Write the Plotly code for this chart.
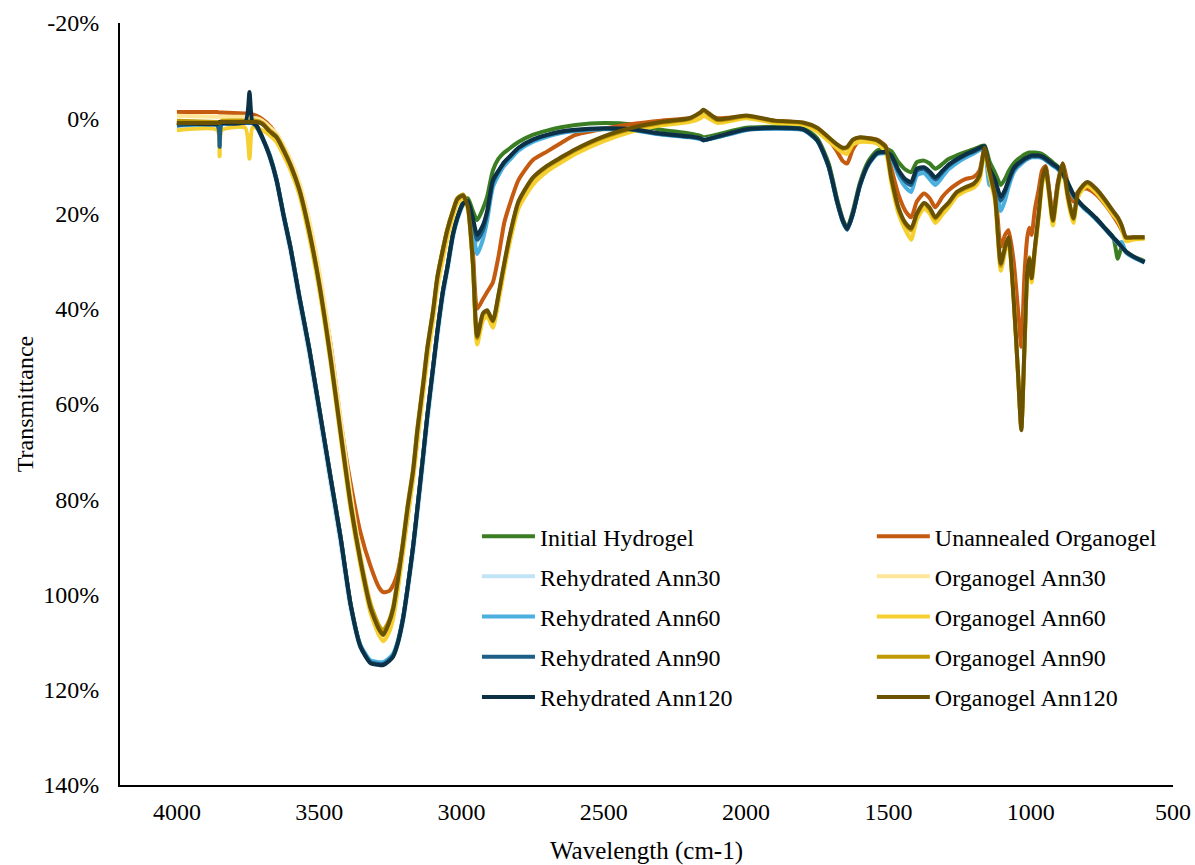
import plotly.graph_objects as go

# Wavenumber grid (cm-1)
wn = [4000, 3858, 3850, 3842, 3760, 3745, 3735, 3720, 3700, 3675,
      3650, 3625, 3600, 3570, 3535, 3500, 3460, 3425, 3390, 3355,
      3320, 3290, 3275, 3255, 3240, 3225, 3205, 3190, 3170, 3155,
      3135, 3120, 3100, 3085, 3065, 3050, 3030, 3015, 2995, 2978,
      2960, 2945, 2925, 2910, 2890, 2870, 2850, 2830, 2800, 2750,
      2700, 2650, 2600, 2500, 2400, 2300, 2200, 2160, 2150, 2100,
      2000, 1900, 1800, 1750, 1710, 1680, 1660, 1645, 1625, 1600,
      1570, 1540, 1510, 1490, 1465, 1440, 1420, 1400, 1375, 1355,
      1335, 1310, 1290, 1260, 1230, 1200, 1180, 1162, 1145, 1125,
      1105, 1090, 1078, 1060, 1045, 1033, 1022, 1012, 1005, 997,
      985, 972, 960, 948, 935, 922, 905, 888, 870, 850,
      835, 815, 800, 770, 740, 710, 694, 680, 665, 640,
      600]

initial_hydrogel = [
    1.0, 1.0, 1.0, 1.0, 0.8, 0.8, 0.8, 1.5, 4.0, 7.6,
    12.8, 20.3, 27.3, 37.3, 48.3, 60.8, 75.3, 87.8, 101.8, 110.8,
    114.2, 114.6, 114.6, 113.8, 112.8, 110.3, 104.8, 98.8, 89.8, 81.8,
    70.8, 62.3, 52.3, 44.8, 36.1, 31.3, 24.2, 20.8, 17.6, 16.8,
    19.5, 21.4, 19.0, 16.5, 11.0, 8.5, 7.2, 6.3, 5.0, 3.5,
    2.6, 1.9, 1.4, 1.0, 1.3, 2.4, 3.2, 3.7, 4.0, 3.4,
    2.0, 1.8, 2.0, 4.2, 9.5, 17.0, 21.2, 23.0, 19.5, 13.5,
    9.0, 6.8, 6.4, 6.9, 9.2, 10.8, 11.3, 9.2, 8.9, 9.5,
    10.6, 9.6, 8.6, 7.8, 7.1, 6.5, 6.0, 5.7, 9.0, 11.5,
    14.0, 12.7, 11.2, 9.5, 8.6, 8.1, 7.6, 7.3, 7.2, 7.2,
    7.2, 7.3, 7.5, 8.0, 8.6, 9.3, 10.1, 11.4, 13.5, 16.0,
    17.2, 18.5, 19.3, 21.0, 23.0, 25.0, 29.5, 27.0, 28.0, 29.0,
    30.0]

unannealed_organogel = [
    -1.3, -1.3, -1.2, -1.2, -1.0, -1.0, -0.8, -0.5, 0.2, 1.5,
    3.5, 6.0, 9.5, 15.0, 23.5, 34.0, 47.5, 63.5, 76.5, 87.0,
    94.0, 98.5, 99.5, 99.3, 98.0, 95.5, 89.5, 84.0, 75.0, 67.5,
    57.0, 50.0, 41.5, 33.8, 27.5, 23.5, 19.5, 17.0, 16.3, 18.5,
    28.0, 40.0, 38.0, 36.5, 34.5, 29.0, 22.0, 18.0, 13.0, 8.8,
    7.0, 5.2, 3.5, 2.2, 1.2, 0.5, 0.0, -0.5, -1.0, 0.0,
    -0.3, 0.5, 1.0, 2.5, 4.5, 7.0, 9.0, 9.5, 6.5, 4.5,
    4.2, 4.5, 5.8, 10.5, 16.0, 19.5, 20.8, 17.5, 15.8, 16.8,
    18.7, 16.5, 15.2, 13.8, 12.8, 12.3, 11.0, 6.2, 10.5, 15.0,
    27.0, 24.5, 23.5, 30.0, 40.0, 48.0, 33.0, 25.0, 23.0, 24.5,
    19.0, 15.0, 11.0, 10.0, 15.0, 20.5, 13.5, 9.5, 13.5, 17.5,
    15.5, 14.8, 14.8, 16.0, 18.0, 20.5, 22.0, 23.5, 25.0, 25.0,
    25.0]

rehydrated_ann30 = [
    1.2, 1.2, 1.0, 1.2, 1.0, 1.0, 1.0, 1.8, 4.2, 8.2,
    13.6, 21.3, 28.5, 38.6, 49.8, 62.4, 77.0, 89.5, 103.0, 111.2,
    114.0, 114.5, 114.5, 113.8, 113.0, 110.8, 105.8, 100.0, 91.5, 83.6,
    72.8, 64.2, 54.0, 46.4, 37.6, 32.5, 25.2, 21.6, 18.4, 17.6,
    22.0, 26.0, 23.5, 20.5, 13.8, 11.5, 9.6, 8.3, 6.5, 4.8,
    3.7, 3.0, 2.6, 2.2, 2.4, 3.3, 3.9, 4.3, 4.5, 3.9,
    2.4, 2.1, 2.4, 4.7, 10.2, 17.7, 21.7, 23.3, 20.2, 14.1,
    9.6, 7.4, 7.2, 8.1, 11.5, 13.8, 14.5, 11.4, 11.0, 12.0,
    13.3, 11.6, 10.3, 9.0, 8.0, 7.2, 6.5, 6.1, 11.5, 13.8,
    18.0, 16.0, 13.8, 11.0, 10.0, 9.4, 8.8, 8.5, 8.3, 8.1,
    8.1, 8.1, 8.3, 8.7, 9.3, 9.9, 10.6, 11.8, 13.8, 16.2,
    17.4, 18.7, 19.5, 21.2, 23.1, 25.1, 26.1, 27.1, 28.1, 29.1,
    30.2]

organogel_ann30 = [
    -0.5, -0.3, -0.3, -0.3, -0.3, -0.2, 0.0, 0.0, 0.5, 1.8,
    3.2, 5.8, 8.8, 13.5, 21.5, 32.0, 47.5, 63.0, 78.5, 91.5,
    101.5, 106.5, 108.0, 106.5, 104.0, 98.8, 90.5, 83.8, 76.0, 68.0,
    58.5, 51.0, 43.0, 36.0, 29.8, 25.5, 21.0, 18.0, 16.8, 19.0,
    31.0, 47.0, 42.0, 41.0, 43.5, 38.0, 31.5, 25.5, 18.5, 13.5,
    11.0, 9.0, 7.2, 4.5, 2.5, 1.2, 0.5, -0.3, -1.0, 0.7,
    -0.2, 0.8, 1.2, 2.5, 4.5, 6.0, 6.8, 6.8, 5.0, 4.6,
    4.8, 5.1, 6.6, 13.0, 19.5, 23.0, 24.5, 21.0, 18.6, 19.6,
    21.6, 19.8, 18.4, 16.0, 15.0, 14.3, 12.6, 6.6, 11.6, 17.2,
    31.5, 27.8, 25.6, 37.6, 53.4, 65.2, 48.8, 32.6, 29.8, 34.0,
    27.6, 20.6, 13.6, 10.8, 16.2, 22.0, 14.6, 10.0, 16.6, 21.6,
    16.4, 14.5, 13.9, 15.3, 17.5, 20.0, 21.3, 23.0, 25.5, 25.3,
    25.2]

rehydrated_ann60 = [
    1.5, 1.3, 1.0, 1.2, 1.0, 1.0, 1.0, 1.8, 4.0, 7.5,
    12.8, 20.2, 27.2, 37.2, 48.2, 60.8, 75.3, 88.0, 102.0, 110.6,
    113.8, 114.2, 114.2, 113.4, 112.4, 110.0, 104.6, 98.8, 89.8, 82.0,
    71.0, 62.5, 52.5, 45.0, 36.5, 31.6, 24.6, 21.2, 18.2, 17.6,
    23.0, 28.5, 25.5, 21.5, 14.5, 12.0, 10.0, 8.7, 6.8, 5.0,
    3.9, 3.1, 2.7, 2.3, 2.5, 3.4, 4.0, 4.4, 4.6, 4.0,
    2.5, 2.2, 2.5, 4.8, 10.3, 17.8, 21.8, 23.3, 20.2, 14.2,
    9.8, 7.6, 7.4, 8.3, 12.0, 14.5, 15.5, 12.0, 11.5, 12.8,
    14.0, 12.3, 10.8, 9.4, 8.3, 7.4, 6.7, 6.3, 14.0, 14.5,
    19.5, 17.2, 14.5, 11.4, 10.2, 9.6, 9.0, 8.6, 8.4, 8.2,
    8.2, 8.2, 8.4, 8.8, 9.4, 10.0, 10.7, 12.0, 14.0, 16.3,
    17.5, 18.8, 19.6, 21.3, 23.2, 25.2, 26.2, 26.0, 28.2, 29.2,
    30.3]

organogel_ann60 = [
    2.5, 2.5, 8.0, 2.5, 2.0, 8.5, 2.0, 2.0, 2.5, 3.5,
    5.0, 7.8, 11.0, 16.0, 25.0, 36.0, 51.5, 67.0, 82.0, 94.0,
    103.8, 108.5, 109.8, 108.0, 105.0, 99.5, 91.0, 84.0, 75.5, 67.5,
    57.5, 50.0, 42.0, 35.0, 29.0, 24.8, 20.5, 17.8, 16.8, 19.0,
    31.5, 47.5, 42.5, 41.5, 44.0, 38.5, 32.0, 26.0, 19.0, 14.0,
    11.2, 9.3, 7.5, 4.8, 2.8, 1.5, 0.8, 0.0, -0.5, 1.0,
    0.0, 1.0, 1.4, 2.8, 4.8, 6.3, 7.2, 7.5, 5.5, 5.0,
    5.0, 5.3, 7.0, 13.5, 20.0, 23.5, 25.5, 21.3, 19.0, 20.0,
    22.0, 20.2, 18.8, 16.4, 15.3, 14.6, 13.0, 7.0, 12.0, 17.5,
    32.0, 28.0, 26.0, 38.0, 53.5, 65.0, 49.0, 33.0, 30.2, 34.5,
    28.0, 21.0, 14.0, 11.0, 16.5, 22.5, 15.0, 10.2, 17.0, 22.0,
    16.8, 14.8, 14.2, 15.6, 17.8, 20.3, 21.5, 23.3, 25.8, 25.5,
    25.3]

rehydrated_ann90 = [
    1.5, 1.5, 6.0, 1.2, 1.0, 1.0, 1.0, 1.8, 4.2, 7.8,
    13.0, 20.5, 27.5, 37.5, 48.5, 61.0, 75.5, 88.0, 102.0, 110.8,
    114.2, 114.6, 114.6, 113.8, 112.8, 110.3, 104.8, 98.8, 89.8, 81.8,
    70.8, 62.3, 52.3, 44.8, 36.1, 31.3, 24.3, 20.9, 18.0, 17.4,
    21.5, 25.5, 23.5, 20.0, 13.5, 11.2, 9.4, 8.1, 6.3, 4.6,
    3.6, 2.9, 2.5, 2.2, 2.4, 3.3, 3.9, 4.3, 4.6, 3.9,
    2.4, 2.1, 2.4, 4.7, 10.2, 17.7, 21.7, 23.4, 20.2, 14.1,
    9.6, 7.4, 7.2, 8.0, 11.2, 13.3, 14.0, 11.0, 10.6, 11.6,
    12.9, 11.3, 10.1, 8.8, 7.8, 7.0, 6.4, 6.0, 11.0, 13.5,
    17.3, 15.5, 13.4, 10.8, 9.8, 9.2, 8.7, 8.4, 8.2, 8.0,
    8.0, 8.0, 8.2, 8.6, 9.2, 9.8, 10.5, 11.7, 13.7, 16.1,
    17.3, 18.6, 19.4, 21.1, 23.1, 25.1, 26.1, 27.1, 28.1, 29.1,
    30.2]

organogel_ann90 = [
    0.5, 0.8, 0.8, 0.5, 0.5, 0.5, 0.5, 0.5, 1.0, 2.5,
    3.8, 6.5, 9.8, 14.8, 23.5, 34.5, 50.0, 65.5, 80.5, 92.5,
    102.0, 106.5, 107.5, 105.5, 102.5, 97.0, 88.5, 81.5, 73.5, 65.0,
    55.5, 48.0, 40.2, 33.2, 27.3, 23.3, 19.3, 16.8, 16.0, 18.3,
    30.5, 46.2, 41.2, 40.5, 42.7, 37.2, 30.7, 24.7, 17.7, 12.7,
    10.2, 8.4, 6.7, 4.0, 2.2, 1.0, 0.2, -1.1, -1.5, 0.4,
    -0.4, 0.6, 1.0, 2.1, 4.1, 5.6, 6.4, 6.2, 4.6, 4.1,
    4.3, 4.7, 6.1, 12.6, 19.0, 22.3, 23.5, 20.3, 18.0, 19.1,
    21.1, 19.2, 18.0, 15.7, 14.7, 13.9, 12.2, 6.3, 11.2, 16.8,
    31.0, 27.3, 25.2, 37.3, 53.3, 65.0, 48.5, 32.3, 29.2, 33.0,
    27.2, 20.2, 13.2, 10.5, 15.7, 21.6, 14.2, 9.7, 16.2, 21.2,
    16.0, 14.2, 13.6, 15.0, 17.2, 19.7, 21.0, 22.7, 25.1, 25.1,
    25.1]

rehydrated_ann120 = [
    1.0, 1.2, 0.8, 1.0, 0.8, -5.5, 0.8, 1.5, 4.0, 7.8,
    13.0, 20.5, 27.5, 37.5, 48.5, 61.0, 75.5, 88.0, 102.0, 111.0,
    114.4, 114.8, 114.8, 114.0, 113.0, 110.5, 105.0, 99.0, 90.0, 82.0,
    71.0, 62.5, 52.5, 45.0, 36.3, 31.5, 24.4, 21.0, 18.0, 17.4,
    21.0, 24.5, 22.5, 19.5, 13.0, 11.0, 9.2, 8.0, 6.2, 4.5,
    3.5, 2.8, 2.4, 2.1, 2.3, 3.2, 3.8, 4.2, 4.6, 3.8,
    2.3, 2.0, 2.3, 4.6, 10.0, 17.5, 21.5, 23.2, 20.0, 14.0,
    9.5, 7.3, 7.1, 7.8, 10.8, 12.8, 13.4, 10.6, 10.3, 11.2,
    12.4, 11.0, 9.8, 8.6, 7.6, 6.8, 6.2, 5.9, 10.5, 13.0,
    16.5, 15.0, 13.0, 10.5, 9.5, 9.0, 8.5, 8.2, 8.0, 7.8,
    7.8, 7.8, 8.0, 8.4, 9.0, 9.6, 10.3, 11.5, 13.5, 16.0,
    17.2, 18.5, 19.3, 21.0, 23.0, 25.0, 26.0, 27.0, 28.0, 29.0,
    30.2]

organogel_ann120 = [
    1.0, 1.0, 1.0, 0.8, 0.8, 0.8, 0.8, 0.8, 1.2, 2.7,
    4.0, 6.8, 10.0, 15.0, 23.8, 34.8, 50.5, 66.0, 81.0, 93.0,
    102.8, 107.3, 108.5, 106.0, 103.0, 97.5, 89.0, 82.0, 74.0, 65.5,
    56.0, 48.3, 40.5, 33.5, 27.5, 23.5, 19.5, 17.0, 16.2, 18.5,
    30.4, 45.8, 41.0, 40.3, 42.5, 37.0, 30.5, 24.5, 17.5, 12.5,
    10.0, 8.2, 6.5, 3.8, 2.0, 0.8, 0.0, -1.3, -1.8, 0.2,
    -0.6, 0.5, 0.9, 2.0, 4.0, 5.5, 6.2, 6.0, 4.5, 4.0,
    4.2, 4.6, 6.0, 12.4, 18.7, 22.0, 23.1, 20.0, 17.8, 18.8,
    20.8, 19.0, 17.8, 15.5, 14.5, 13.7, 12.0, 6.2, 11.0, 16.5,
    30.5, 27.0, 25.0, 38.0, 53.0, 65.5, 48.0, 32.0, 29.5, 33.6,
    27.0, 20.0, 13.0, 10.3, 15.5, 21.4, 14.0, 9.5, 16.0, 21.0,
    15.8, 14.0, 13.4, 14.8, 17.0, 19.5, 20.8, 22.5, 25.0, 25.0,
    25.0]

x_ticks = [4000, 3500, 3000, 2500, 2000, 1500, 1000, 500]
y_ticks = [-20, 0, 20, 40, 60, 80, 100, 120, 140]
y_ticktext = [f"{v}%" for v in y_ticks]

# (name, values, colour, legend)
series = [
    ("Initial Hydrogel", initial_hydrogel, "#3B7D23", "legend"),
    ("Unannealed Organogel", unannealed_organogel, "#C55A11", "legend2"),
    ("Rehydrated Ann30", rehydrated_ann30, "#C0E4F5", "legend"),
    ("Organogel Ann30", organogel_ann30, "#FFE699", "legend2"),
    ("Rehydrated Ann60", rehydrated_ann60, "#4BB0E0", "legend"),
    ("Organogel Ann60", organogel_ann60, "#F5D030", "legend2"),
    ("Rehydrated Ann90", rehydrated_ann90, "#1D5F86", "legend"),
    ("Organogel Ann90", organogel_ann90, "#C09A00", "legend2"),
    ("Rehydrated Ann120", rehydrated_ann120, "#0C3146", "legend"),
    ("Organogel Ann120", organogel_ann120, "#6A5200", "legend2"),
]

FONT = "Liberation Serif"

fig = go.Figure()
for name, vals, color, leg in series:
    fig.add_trace(go.Scatter(
        x=wn, y=vals, name=name, mode="lines",
        line=dict(color=color, width=4, shape="spline", smoothing=0.6),
        legend=leg, legendgroup=name,
    ))

legend_common = dict(
    font=dict(family=FONT, size=24, color="black"),
    bgcolor="rgba(0,0,0,0)",
    tracegroupgap=6,
    traceorder="grouped",
    xanchor="left", yanchor="top",
    itemwidth=53,
)

fig.update_layout(
    width=1195, height=865,
    margin=dict(l=120, r=22, t=23, b=80),
    paper_bgcolor="white", plot_bgcolor="white",
    font=dict(family=FONT, size=24, color="black"),
    showlegend=True,
    legend=dict(x=0.339, y=0.3556, **legend_common),
    legend2=dict(x=0.714, y=0.3556, **legend_common),
    xaxis=dict(
        range=[4200, 500], tickvals=x_ticks, automargin=False,
        showgrid=False, zeroline=False,
        showline=True, linecolor="black", linewidth=2,
        ticks="outside", ticklen=4, tickcolor="rgba(0,0,0,0)",
        tickfont=dict(family=FONT, size=24, color="black"),
        title=dict(text="Wavelength (cm-1)", standoff=19,
                   font=dict(family=FONT, size=25, color="black")),
    ),
    yaxis=dict(
        range=[140, -20], tickvals=y_ticks, ticktext=y_ticktext,
        automargin=False,
        showgrid=False, zeroline=False,
        showline=True, linecolor="black", linewidth=2,
        ticks="outside", ticklen=14, tickcolor="rgba(0,0,0,0)",
        tickfont=dict(family=FONT, size=24, color="black"),
        title=dict(text="Transmittance", standoff=3,
                   font=dict(family=FONT, size=24, color="black")),
    ),
)

fig.write_html("out.html", post_script="document.body.style.margin='0';",
               config={"displayModeBar": False})
